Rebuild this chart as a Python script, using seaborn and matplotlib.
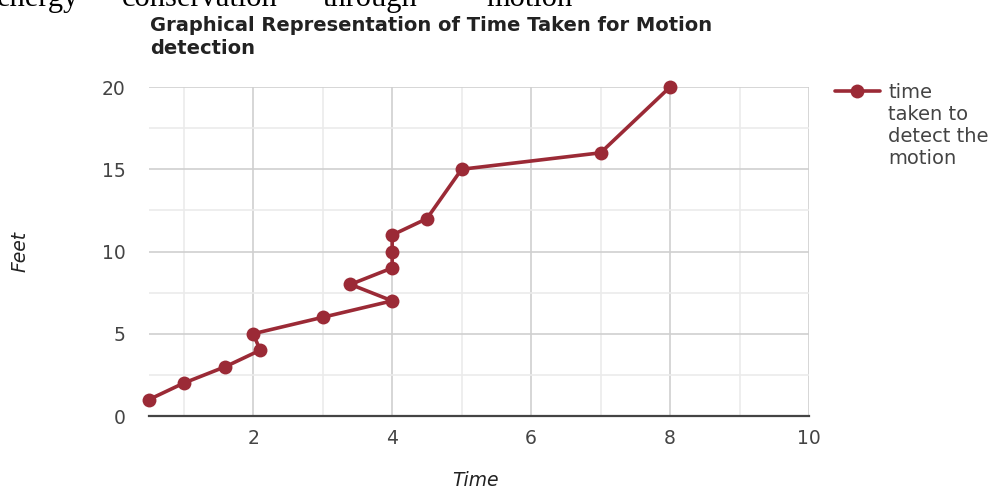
import numpy as np
import pandas as pd
import matplotlib
matplotlib.use("Agg")
import matplotlib.pyplot as plt
from matplotlib.ticker import FixedLocator
import seaborn as sns

time_vals = [0.5, 1, 1.6, 2.1, 2, 3, 4, 3.4, 4, 4, 4, 4.5, 5, 7, 8]
feet_vals = [1, 2, 3, 4, 5, 6, 7, 8, 9, 10, 11, 12, 15, 16, 20]
series_name = "time\ntaken to\ndetect the\nmotion"
x_ticks = [2, 4, 6, 8, 10]
y_ticks = [0, 5, 10, 15, 20]
x_minor = [1, 3, 5, 7, 9]
y_minor = [2.5, 7.5, 12.5, 17.5]

df = pd.DataFrame({"Time": time_vals, "Feet": feet_vals})

sns.set_style("white")
plt.rcParams["font.family"] = ["DejaVu Sans"]

W, H = 993, 490
fig = plt.figure(figsize=(W/100, H/100), dpi=100)
ax = fig.add_axes([149/W, 1-416/H, (809-149)/W, (416-87)/H])

color = "#9b2a36"
sns.lineplot(data=df, x="Time", y="Feet", sort=False, estimator=None, ax=ax,
             color=color, lw=2.6, marker="o", markersize=10, markeredgewidth=0,
             label=series_name, clip_on=False, zorder=5)

ax.set_xlim(0.5, 10)
ax.set_ylim(0, 20)
ax.xaxis.set_major_locator(FixedLocator(x_ticks))
ax.yaxis.set_major_locator(FixedLocator(y_ticks))
ax.xaxis.set_minor_locator(FixedLocator(x_minor))
ax.yaxis.set_minor_locator(FixedLocator(y_minor))
ax.grid(which="major", color="#cfcfcf", lw=1.2)
ax.grid(which="minor", color="#ebebeb", lw=1.2)
ax.set_axisbelow(True)
for s in ["top", "right", "left"]:
    ax.spines[s].set_visible(False)
ax.spines["bottom"].set_color("#444444")
ax.spines["bottom"].set_linewidth(1.6)
ax.spines["bottom"].set_zorder(6)
ax.tick_params(axis="both", which="both", length=0, labelsize=13.5, labelcolor="#444444")
ax.tick_params(axis="y", pad=17)
ax.tick_params(axis="x", pad=9)

ax.set_xlabel("Time", fontstyle="italic", fontsize=13.5, color="#222222")
ax.set_ylabel("Feet", fontstyle="italic", fontsize=13.5, color="#222222")
ax.xaxis.set_label_coords((475-149)/660, (416-481)/329)
ax.xaxis.label.set_va("center")
ax.yaxis.set_label_coords((20-149)/660, 0.5)
ax.yaxis.label.set_va("center")

leg = ax.legend(loc="upper left", bbox_to_anchor=(835/W, 1-83/H),
                bbox_transform=fig.transFigure, frameon=False,
                fontsize=14, handlelength=2.3, handleheight=1.05,
                handletextpad=0.45, borderaxespad=0, borderpad=0)
for t in leg.get_texts():
    t.set_color("#444444")
    t.set_linespacing(1.2)
for col in leg._legend_handle_box.get_children():
    for hp in col.get_children():
        hp.align = "top"

fig.text(150/W, 1-16/H, "Graphical Representation of Time Taken for Motion\ndetection",
         fontsize=14, fontweight="bold", color="#222222", va="top", ha="left",
         linespacing=1.3)

for word, x in [("energy", -3), ("conservation", 122), ("through", 323), ("motion", 486)]:
    fig.text(x/W, 1-6/H, word, fontsize=22, family="Liberation Serif",
             color="black", va="baseline", ha="left")

fig.savefig("out.png", dpi=100)
